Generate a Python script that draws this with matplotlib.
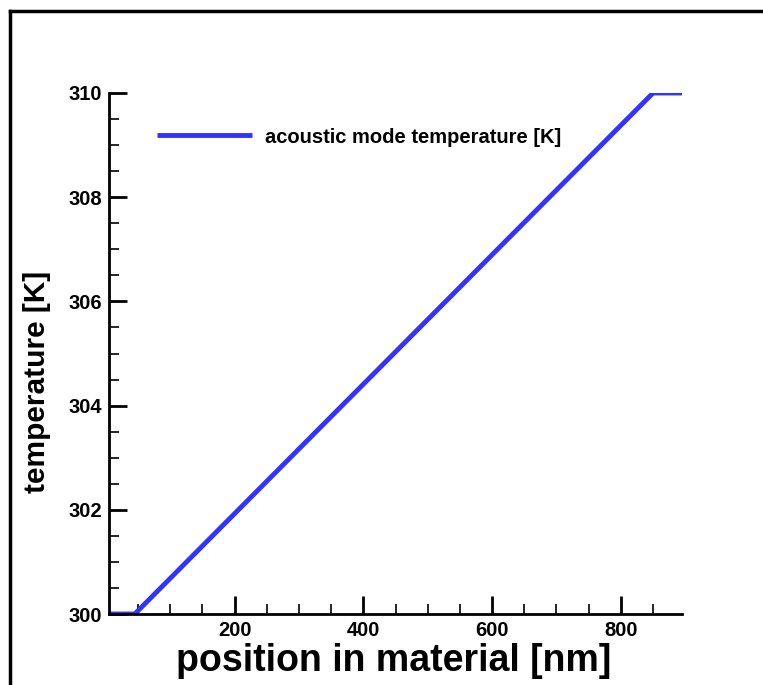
import matplotlib
matplotlib.use('Agg')
import matplotlib.pyplot as plt
from matplotlib.lines import Line2D

# data
position = [5, 45, 850, 895]          # nm
temperature = [300, 300, 310, 310]    # K
series_label = 'acoustic mode temperature [K]'

plt.rcParams['font.family'] = ['Liberation Sans', 'DejaVu Sans']
plt.rcParams['font.weight'] = 'bold'

fig = plt.figure(figsize=(7.63, 6.85), dpi=100)
ax = fig.add_axes([109 / 763, 71 / 685, 573 / 763, 521 / 685])

ax.plot(position, temperature, color='#3333ff', lw=3.5, label=series_label,
        solid_capstyle='butt')

ax.set_xlim(5, 895)
ax.set_ylim(300, 310)
ax.set_xticks([200, 400, 600, 800])
ax.set_xticks(range(50, 900, 50), minor=True)
ax.set_yticks([300, 302, 304, 306, 308, 310])
ax.set_yticks([300 + 0.5 * i for i in range(21)], minor=True)

for s in ['top', 'right']:
    ax.spines[s].set_visible(False)
for s in ['left', 'bottom']:
    ax.spines[s].set_linewidth(2)

ax.tick_params(which='major', direction='in', length=13, width=2, labelsize=14.5, pad=5)
ax.tick_params(which='minor', direction='in', length=7, width=1.2)
for lab in ax.get_xticklabels() + ax.get_yticklabels():
    lab.set_fontweight('bold')

ax.set_xlabel('position in material [nm]', fontsize=27, fontweight='bold')
ax.set_ylabel('temperature [K]', fontsize=21.5, fontweight='bold')
ax.xaxis.set_label_coords(0.497, -0.056)
ax.yaxis.set_label_coords(-0.101, 0.445)

leg = ax.legend(loc='center left', bbox_to_anchor=(0.0838, 0.9155), frameon=False,
                borderpad=0, borderaxespad=0, handlelength=4.72, handletextpad=0.65,
                prop={'size': 14.5, 'weight': 'bold'})

# outer frame (top and left edges only)
fig.add_artist(Line2D([10 / 763, 1.0], [1 - 11 / 685, 1 - 11 / 685], color='black', lw=2.5,
                      transform=fig.transFigure))
fig.add_artist(Line2D([10 / 763, 10 / 763], [0, 1 - 11 / 685], color='black', lw=2.5,
                      transform=fig.transFigure))

plt.savefig('out.png', dpi=100)
